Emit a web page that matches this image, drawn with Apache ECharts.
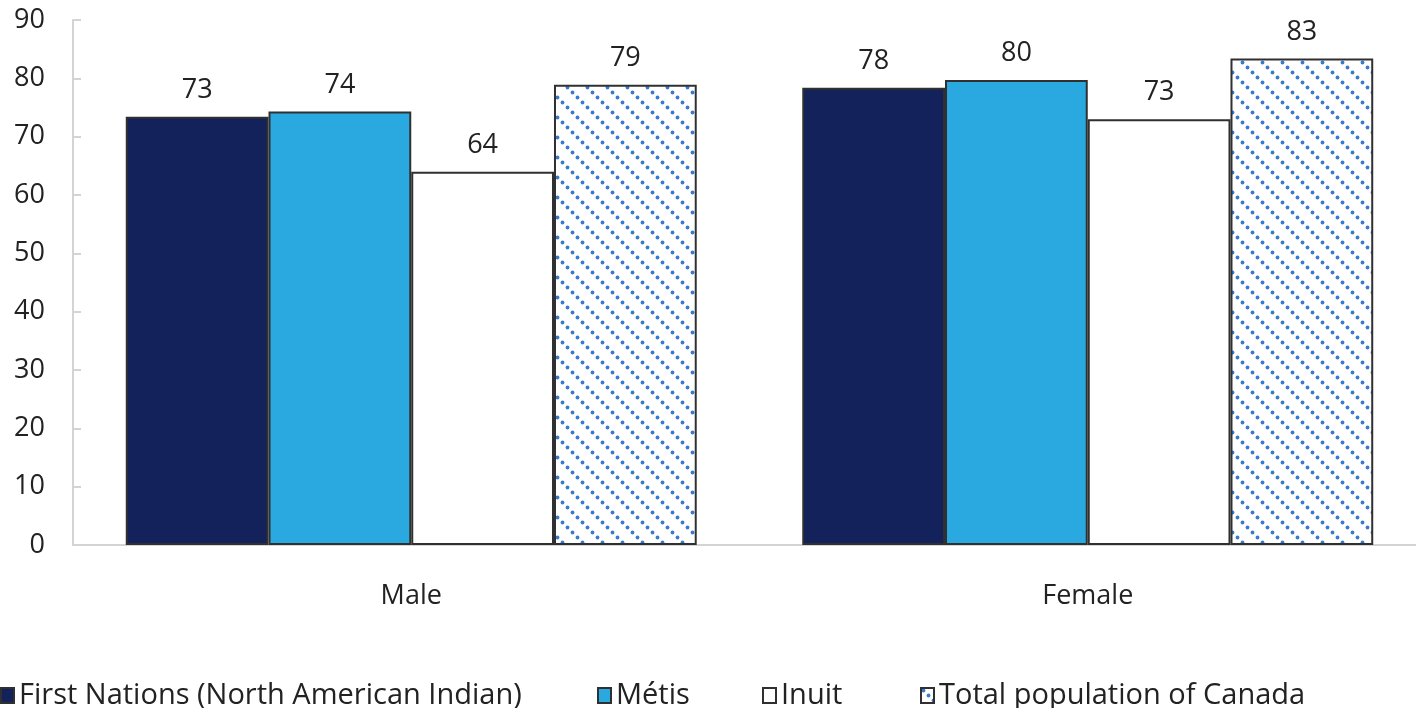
<!DOCTYPE html>
<html>
<head>
<meta charset="utf-8">
<script src="https://cdn.jsdelivr.net/npm/echarts@6/dist/echarts.min.js"></script>
<style>
html,body{margin:0;padding:0;background:#fff;}
#chart{width:1416px;height:708px;}
</style>
</head>
<body>
<div id="chart"></div>
<script>
const categories = ['Male', 'Female'];
const seriesNames = ['First Nations (North American Indian)', 'Métis', 'Inuit', 'Total population of Canada'];
const firstNations = [73.4, 78.4];
const metis = [74.3, 79.7];
const inuit = [64.0, 73.0];
const totalCanada = [78.9, 83.4];
const yTicks = [0, 10, 20, 30, 40, 50, 60, 70, 80, 90];

function makePattern() {
  const c = document.createElement('canvas');
  c.width = 20; c.height = 20;
  const ctx = c.getContext('2d');
  ctx.fillStyle = '#ffffff';
  ctx.fillRect(0, 0, 20, 20);
  ctx.fillStyle = '#3a7acd';
  for (let k = -1; k <= 4; k++) {
    const p = k * 5 + 2.5;
    ctx.beginPath();
    ctx.arc(p, p, 1.9, 0, Math.PI * 2);
    ctx.fill();
  }
  return c;
}

const font = "'Open Sans', sans-serif";
const chart = echarts.init(document.getElementById('chart'), null, {renderer: 'canvas'});
const labelCfg = {show: true, position: 'top', distance: 13, fontSize: 27, color: '#222', fontFamily: font,
  formatter: p => String(Math.round(p.value))};
const border = {borderColor: '#303030', borderWidth: 2};

const legendLefts = [0, 597, 762, 920];
const legends = seriesNames.map((n, i) => ({
  left: legendLefts[i], top: 681, padding: 0,
  itemWidth: 13, itemHeight: 15, itemGap: 0,
  icon: 'rect',
  textStyle: {fontSize: 29, color: '#222', fontFamily: font},
  data: [n]
}));

chart.setOption({
  animation: false,
  grid: {left: 73, right: -10, top: 20, bottom: 163, outerBoundsMode: 'none', containLabel: false},
  legend: legends,
  xAxis: {
    type: 'category', data: categories,
    axisLine: {lineStyle: {color: '#d4d4d4', width: 2}},
    axisTick: {show: false},
    axisLabel: {fontSize: 27, color: '#222', margin: 38, fontFamily: font}
  },
  yAxis: {
    type: 'value', min: 0, max: 90, interval: 10,
    axisLine: {show: true, lineStyle: {color: '#d4d4d4', width: 2}},
    axisTick: {show: true, inside: true, length: 8, lineStyle: {color: '#d4d4d4', width: 2}},
    splitLine: {show: false},
    axisLabel: {fontSize: 27, color: '#222', margin: 28, fontFamily: font,
      formatter: v => yTicks.includes(v) ? String(v) : ''}
  },
  series: [
    {name: seriesNames[0], type: 'bar', data: firstNations, barGap: '0%', barCategoryGap: '15.6%',
      itemStyle: Object.assign({color: '#13225a'}, border), label: labelCfg},
    {name: seriesNames[1], type: 'bar', data: metis,
      itemStyle: Object.assign({color: '#29a9df'}, border), label: labelCfg},
    {name: seriesNames[2], type: 'bar', data: inuit,
      itemStyle: Object.assign({color: '#ffffff'}, border), label: labelCfg},
    {name: seriesNames[3], type: 'bar', data: totalCanada,
      itemStyle: Object.assign({color: {image: makePattern(), repeat: 'repeat'}}, border), label: labelCfg}
  ]
});
</script>
</body>
</html>
